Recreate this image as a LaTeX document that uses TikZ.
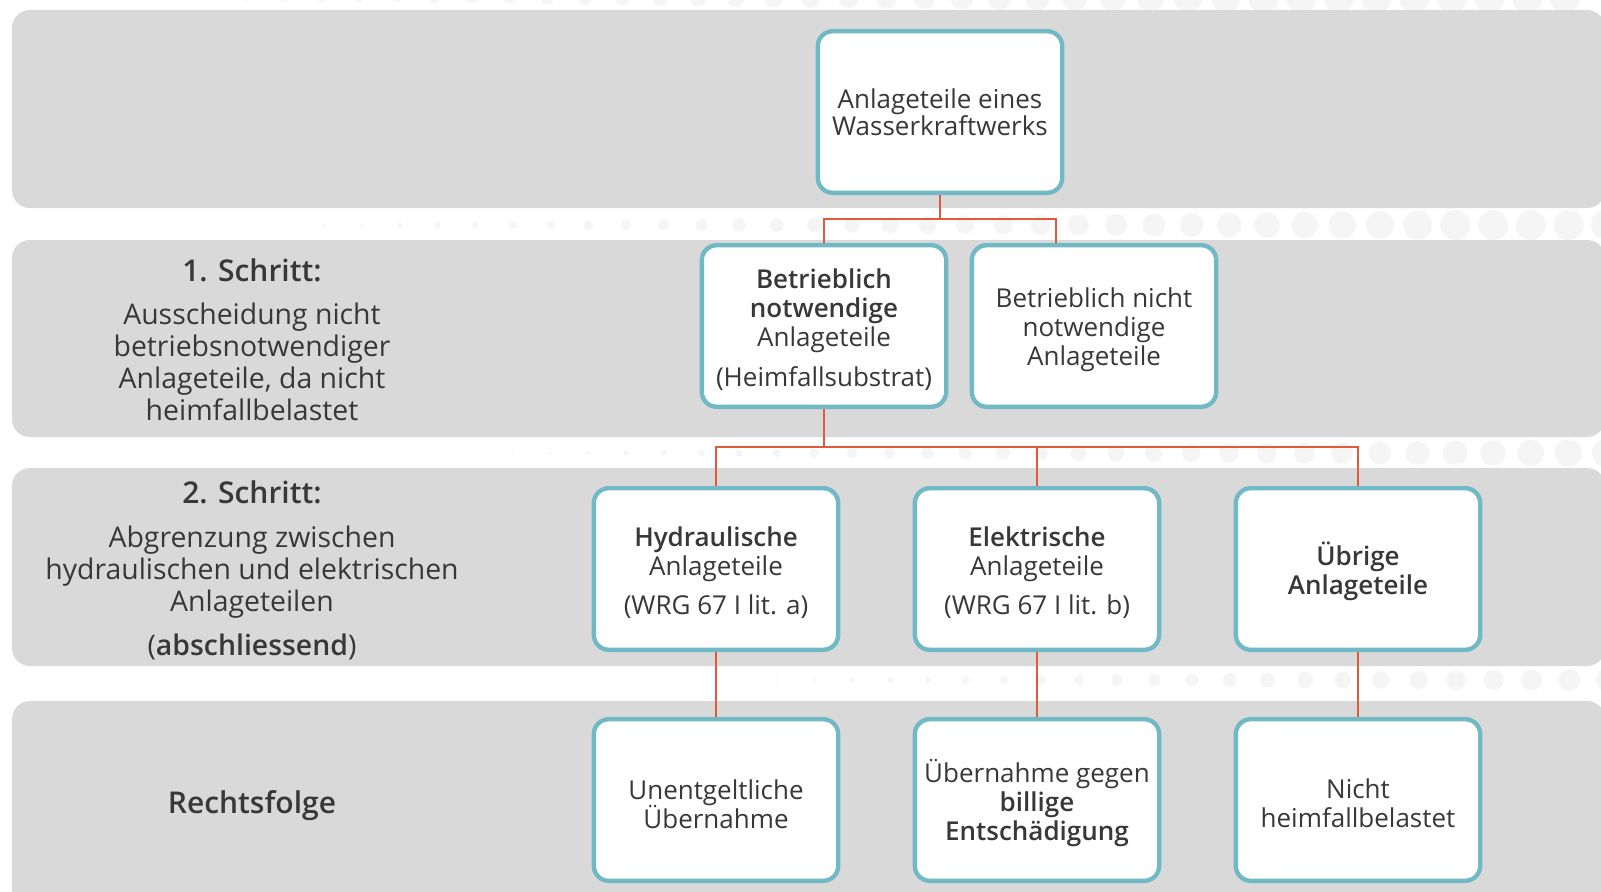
\documentclass[tikz,border=0pt]{standalone}
\usepackage{fontspec}
\IfFontExistsTF{Open Sans SemiBold}
  {\setmainfont{Open Sans}[BoldFont={Open Sans SemiBold}]}
  {\IfFontExistsTF{Open Sans Semibold}
    {\setmainfont{Open Sans}[BoldFont={Open Sans Semibold}]}
    {\setmainfont{Open Sans}}}

\definecolor{bandgrey}{HTML}{D9D9D9}
\definecolor{dotgrey}{HTML}{F5F5F5}
\definecolor{boxteal}{HTML}{72B9C6}
\definecolor{linkred}{HTML}{E05A3C}
\definecolor{textgrey}{HTML}{383838}

% strut that pushes the text of a box a little down
\newcommand{\topstrut}{\rule{0pt}{13.2pt}}
\newcommand{\partfont}{\fontsize{13}{14.5}\selectfont\lineskiplimit=-20pt\relax}

\tikzset{
  band/.style={fill=bandgrey, rounded corners=9pt},
  part/.style={draw=boxteal, line width=2.2pt, fill=white, rounded corners=7.5pt,
    minimum width=122.2pt, minimum height=80.8pt, inner sep=2pt, align=center,
    text=textgrey, font=\partfont},
  steptext/.style={align=center, text=textgrey, font=\fontsize{14.2}{16}\selectfont},
  link/.style={draw=linkred, line width=1.2pt},
}

\begin{document}
\begin{tikzpicture}[x=0.5pt, y=-0.5pt]
    \clip (0,0) rectangle (1601,891);
    \fill[white] (0,0) rectangle (1601,891);
    % Draw dots between the bands
    \foreach \yy/\xs in {-2/57, 225/249, 453/475, 680/702} {
      \foreach \i in {0,...,40} {
        \pgfmathsetmacro\rr{min(15,0.6+0.45*\i)}
        \fill[dotgrey] (\xs+37.7*\i,\yy) circle[radius=\rr*0.5pt];
      }
    }
    % Draw bands
    \fill[band] (12,10) rectangle (1605,208);
    \fill[band] (12,240) rectangle (1605,437);
    \fill[band] (12,468) rectangle (1605,666);
    \fill[band] (12,701) rectangle (1605,920);

    % Left column
    \node[steptext] (step1) at (252,340) {{\bfseries\fontsize{15}{16}\selectfont 1. Schritt:}\\[5.5pt]
      Ausscheidung nicht\\ betriebsnotwendiger\\ Anlageteile, da nicht\\ heimfallbelastet};
    \node[steptext] (step2) at (252,570) {{\bfseries\fontsize{15}{16}\selectfont 2. Schritt:}\\[6pt]
      Abgrenzung zwischen\\ hydraulischen und elektrischen\\ Anlageteilen\\[6pt] (\textbf{abschliessend})};
    \node[steptext, font=\bfseries\fontsize{15}{16}\selectfont] (folge) at (252,806) {Rechtsfolge};

    % Boxes
    \node[part, font=\fontsize{13}{13.6}\selectfont] (top) at (940,112) {Anlageteile eines\\Wasserkraftwerks};
    \node[part] (need) at (824,326) {\topstrut\textbf{Betrieblich}\\\textbf{notwendige}\\Anlageteile\\[5.5pt](Heimfallsubstrat)};
    \node[part] (noneed) at (1094,326) {\topstrut Betrieblich nicht\\notwendige\\Anlageteile};
    \node[part] (hydr) at (716,569) {\topstrut\textbf{Hydraulische}\\Anlageteile\\[5pt](WRG 67 I lit. a)};
    \node[part] (elek) at (1037,569) {\topstrut\textbf{Elektrische}\\Anlageteile\\[5pt](WRG 67 I lit. b)};
    \node[part] (rest) at (1358,569) {\rule{0pt}{14.5pt}\textbf{Übrige}\\\textbf{Anlageteile}};
    \node[part] (free) at (716,800) {\rule{0pt}{14.5pt}Unentgeltliche\\Übernahme};
    \node[part] (paid) at (1037,800) {\rule{0pt}{14.5pt}Übernahme gegen\\\textbf{billige}\\\textbf{Entschädigung}};
    \node[part] (nofall) at (1358,800) {\topstrut Nicht\\heimfallbelastet};

    % Connectors
    \coordinate (split1) at (940,219);
    \coordinate (split2) at (824,447);
    \coordinate (noneedin) at (1055.7,243);
    \draw[link] (top.south) -- (split1) -| (need.north);
    \draw[link] (split1) -| (noneedin);
    \draw[link] (need.south) -- (split2);
    \draw[link] (split2) -| (hydr.north);
    \draw[link] (split2) -| (elek.north);
    \draw[link] (split2) -| (rest.north);
    \draw[link] (hydr.south) -- (free.north);
    \draw[link] (elek.south) -- (paid.north);
    \draw[link] (rest.south) -- (nofall.north);
  \end{tikzpicture}
\end{document}
